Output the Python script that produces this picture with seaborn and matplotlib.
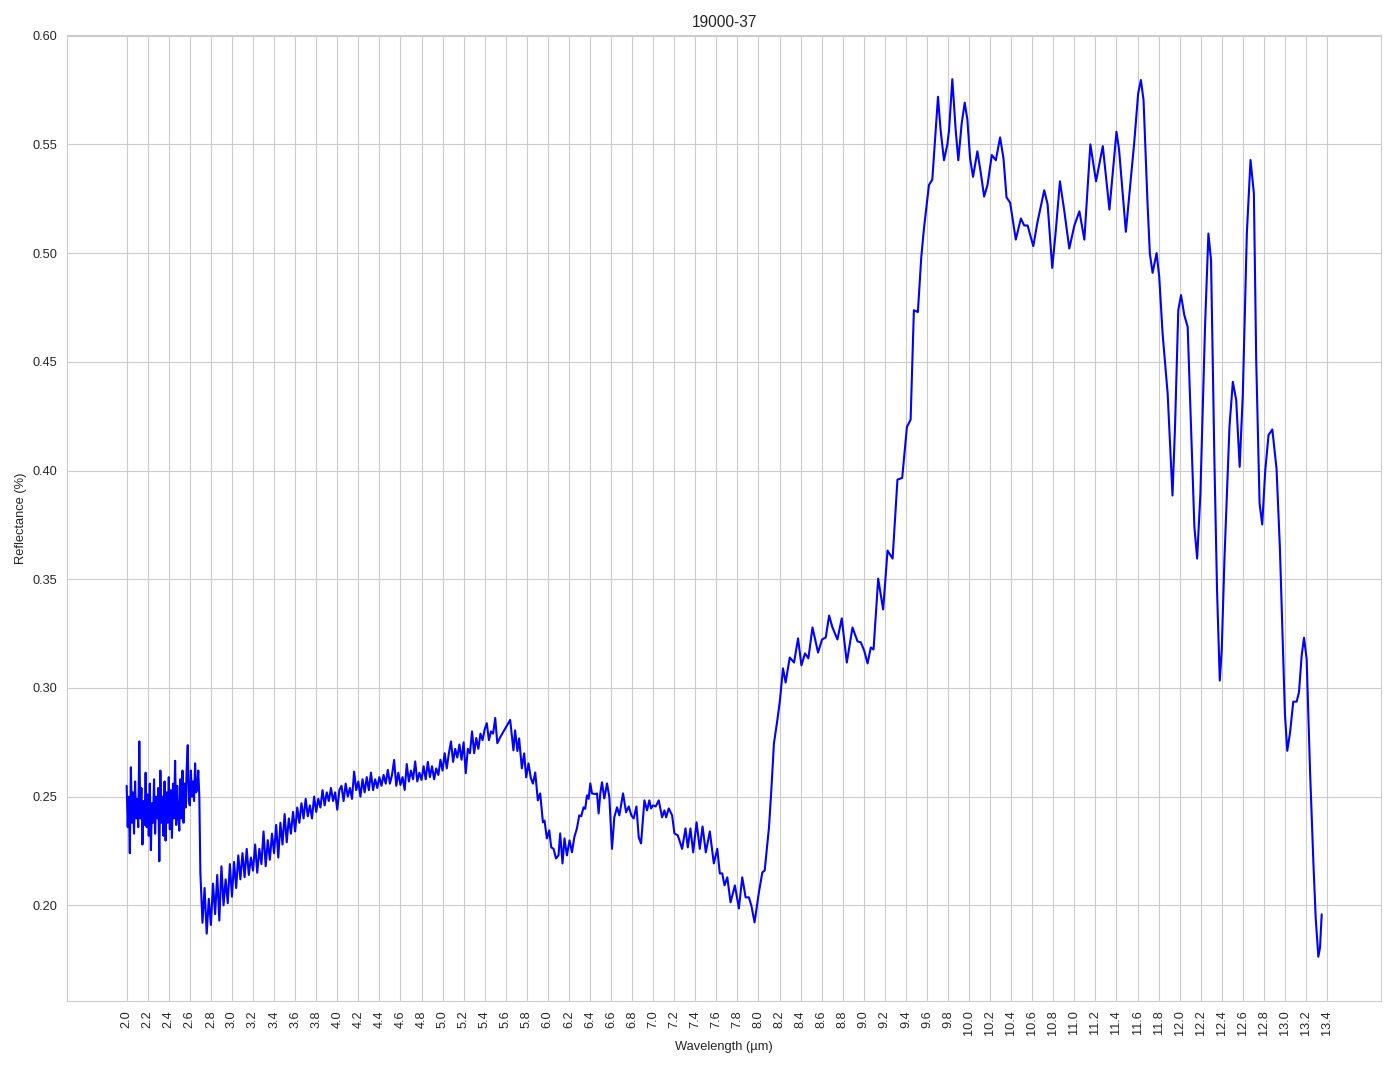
import numpy as np
import matplotlib
matplotlib.use("Agg")
import matplotlib.pyplot as plt
import pandas as pd
import seaborn as sns

# Spectrum 19000-37, values

title = "19000-37"

# noisy part 2.00 - 2.69 um, sampled every 0.01 um
refl_a = [
    0.255, 0.236, 0.250, 0.224, 0.2635, 0.238, 0.252, 0.233, 0.257, 0.240,
    0.249, 0.236, 0.2754, 0.240, 0.254, 0.228, 0.248, 0.237, 0.261, 0.236,
    0.251, 0.232, 0.256, 0.2254, 0.247, 0.238, 0.258, 0.233, 0.250, 0.240,
    0.254, 0.2203, 0.262, 0.238, 0.250, 0.232, 0.257, 0.2298, 0.252, 0.238,
    0.259, 0.235, 0.253, 0.231, 0.256, 0.240, 0.2665, 0.237, 0.255, 0.242,
    0.2344, 0.258, 0.240, 0.262, 0.238, 0.256, 0.245, 0.263, 0.2737, 0.248,
    0.246, 0.262, 0.250, 0.257, 0.248, 0.2653, 0.252, 0.2535, 0.262, 0.250,
]

# noisy part 2.70 - 5.52 um, sampled every 0.02 um
refl_b = [
    0.215, 0.192, 0.208, 0.187, 0.203, 0.191, 0.210, 0.196, 0.214, 0.193,
    0.218, 0.200, 0.212, 0.201, 0.219, 0.204, 0.220, 0.208, 0.223, 0.212,
    0.224, 0.213, 0.226, 0.214, 0.222, 0.216, 0.228, 0.215, 0.226, 0.219,
    0.234, 0.218, 0.230, 0.221, 0.233, 0.224, 0.237, 0.222, 0.238, 0.228,
    0.242, 0.229, 0.240, 0.233, 0.243, 0.234, 0.245, 0.238, 0.247, 0.240,
    0.249, 0.241, 0.246, 0.240, 0.250, 0.243, 0.249, 0.245, 0.253, 0.246,
    0.252, 0.248, 0.254, 0.248, 0.252, 0.244, 0.253, 0.255, 0.248, 0.256,
    0.250, 0.254, 0.249, 0.2615, 0.253, 0.257, 0.250, 0.258, 0.252, 0.259,
    0.253, 0.2611, 0.253, 0.258, 0.254, 0.259, 0.255, 0.260, 0.256, 0.2623,
    0.256, 0.260, 0.2669, 0.255, 0.261, 0.2554, 0.259, 0.2531, 0.265, 0.257,
    0.262, 0.258, 0.2662, 0.257, 0.261, 0.2577, 0.264, 0.258, 0.266, 0.259,
    0.264, 0.258, 0.263, 0.260, 0.267, 0.262, 0.270, 0.263, 0.270, 0.2754,
    0.266, 0.272, 0.268, 0.274, 0.267, 0.275, 0.2608, 0.272, 0.270, 0.280,
    0.270, 0.277, 0.272, 0.279, 0.276, 0.281, 0.2838, 0.276, 0.280, 0.279,
    0.2862, 0.2746,
]

# smoother part from 5.55 um on, irregular points at the features
wl_c = [
    5.546, 5.642, 5.673, 5.689, 5.711, 5.727, 5.753, 5.775, 5.794, 5.816,
    5.839, 5.858, 5.880, 5.905, 5.927, 5.953, 5.968, 5.991, 6.013, 6.032,
    6.054, 6.077, 6.101, 6.117, 6.139, 6.158, 6.181, 6.206, 6.229, 6.251,
    6.276, 6.298, 6.317, 6.339, 6.355, 6.371, 6.387, 6.403, 6.419, 6.450,
    6.467, 6.482, 6.498, 6.514, 6.536, 6.562, 6.584, 6.609, 6.631, 6.657,
    6.679, 6.714, 6.743, 6.768, 6.793, 6.815, 6.841, 6.863, 6.885, 6.917,
    6.942, 6.964, 6.980, 6.999, 7.024, 7.053, 7.085, 7.107, 7.123, 7.148,
    7.180, 7.202, 7.234, 7.275, 7.307, 7.329, 7.354, 7.380, 7.412, 7.443,
    7.469, 7.500, 7.538, 7.576, 7.609, 7.633, 7.656, 7.678, 7.704, 7.735,
    7.776, 7.814, 7.846, 7.878, 7.909, 7.932, 7.963, 8.004, 8.037, 8.059,
    8.100, 8.122, 8.147, 8.179, 8.204, 8.233, 8.258, 8.297, 8.338, 8.376,
    8.408, 8.442, 8.474, 8.513, 8.566, 8.604, 8.639, 8.671, 8.703, 8.750,
    8.791, 8.839, 8.893, 8.941, 8.972, 9.004, 9.036, 9.067, 9.093, 9.137,
    9.184, 9.226, 9.274, 9.320, 9.365, 9.410, 9.445, 9.476, 9.514, 9.546,
    9.571, 9.619, 9.651, 9.676, 9.705, 9.730, 9.762, 9.794, 9.810, 9.841,
    9.873, 9.898, 9.930, 9.959, 9.984, 10.010, 10.038, 10.079, 10.111, 10.143,
    10.175, 10.216, 10.254, 10.295, 10.327, 10.356, 10.390, 10.444, 10.492, 10.524,
    10.556, 10.610, 10.650, 10.714, 10.746, 10.790, 10.825, 10.863, 10.905, 10.952,
    11.000, 11.048, 11.095, 11.152, 11.206, 11.270, 11.333, 11.400, 11.425, 11.489,
    11.568, 11.606, 11.632, 11.657, 11.695, 11.717, 11.743, 11.781, 11.806, 11.838,
    11.886, 11.932, 11.956, 11.987, 12.013, 12.044, 12.076, 12.108, 12.140, 12.166,
    12.197, 12.241, 12.273, 12.298, 12.330, 12.355, 12.381, 12.400, 12.425, 12.473,
    12.505, 12.537, 12.570, 12.600, 12.638, 12.673, 12.705, 12.727, 12.759, 12.784,
    12.813, 12.844, 12.880, 12.920, 12.952, 12.984, 13.000, 13.022, 13.048, 13.079,
    13.111, 13.133, 13.159, 13.181, 13.206, 13.238, 13.270, 13.292, 13.317, 13.333,
    13.349,
]
refl_c = [
    0.2772, 0.2853, 0.2713, 0.2805, 0.2710, 0.2768, 0.2630, 0.2699, 0.2589, 0.2653,
    0.2584, 0.2560, 0.2611, 0.2483, 0.2515, 0.2382, 0.2390, 0.2308, 0.2345, 0.2267,
    0.2260, 0.2216, 0.2230, 0.2331, 0.2193, 0.2308, 0.2230, 0.2299, 0.2244, 0.2313,
    0.2354, 0.2414, 0.2410, 0.2451, 0.2444, 0.2506, 0.2490, 0.2561, 0.2515, 0.2512,
    0.2515, 0.2423, 0.2515, 0.2566, 0.2492, 0.2561, 0.2497, 0.2260, 0.2405, 0.2451,
    0.2414, 0.2515, 0.2428, 0.2455, 0.2414, 0.2400, 0.2455, 0.2313, 0.2285, 0.2483,
    0.2437, 0.2483, 0.2446, 0.2460, 0.2455, 0.2483, 0.2405, 0.2437, 0.2405, 0.2446,
    0.2414, 0.2331, 0.2322, 0.2260, 0.2354, 0.2267, 0.2354, 0.2244, 0.2382, 0.2260,
    0.2363, 0.2244, 0.2340, 0.2193, 0.2260, 0.2147, 0.2147, 0.2092, 0.2129, 0.2014,
    0.2092, 0.1986, 0.2129, 0.2037, 0.2037, 0.2000, 0.1922, 0.2060, 0.2152, 0.2160,
    0.2359, 0.2529, 0.2745, 0.2851, 0.2943, 0.3090, 0.3025, 0.3140, 0.3117, 0.3228,
    0.3104, 0.3159, 0.3136, 0.3278, 0.3163, 0.3223, 0.3232, 0.3333, 0.3278, 0.3223,
    0.3320, 0.3117, 0.3278, 0.3214, 0.3210, 0.3172, 0.3113, 0.3186, 0.3177, 0.3503,
    0.3361, 0.3632, 0.3595, 0.3958, 0.3966, 0.4201, 0.4234, 0.4737, 0.4729, 0.4980,
    0.5110, 0.5313, 0.5338, 0.5516, 0.5719, 0.5565, 0.5427, 0.5500, 0.5565, 0.5800,
    0.5565, 0.5427, 0.5597, 0.5692, 0.5614, 0.5435, 0.5351, 0.5468, 0.5370, 0.5260,
    0.5313, 0.5451, 0.5427, 0.5532, 0.5435, 0.5256, 0.5232, 0.5062, 0.5159, 0.5127,
    0.5127, 0.5032, 0.5143, 0.5289, 0.5224, 0.4932, 0.5110, 0.5330, 0.5192, 0.5021,
    0.5127, 0.5192, 0.5062, 0.5500, 0.5330, 0.5492, 0.5200, 0.5558, 0.5474, 0.5098,
    0.5505, 0.5735, 0.5796, 0.5704, 0.5228, 0.4998, 0.4909, 0.5000, 0.4891, 0.4630,
    0.4354, 0.3885, 0.4201, 0.4738, 0.4807, 0.4715, 0.4661, 0.4201, 0.3740, 0.3595,
    0.3894, 0.4661, 0.5090, 0.4968, 0.4047, 0.3450, 0.3034, 0.3180, 0.3587, 0.4201,
    0.4408, 0.4324, 0.4017, 0.4354, 0.5090, 0.5428, 0.5275, 0.4508, 0.3848, 0.3752,
    0.4001, 0.4163, 0.4189, 0.4009, 0.3643, 0.3133, 0.2878, 0.2711, 0.2793, 0.2937,
    0.2937, 0.2980, 0.3150, 0.3231, 0.3133, 0.2622, 0.2197, 0.1942, 0.1764, 0.1806,
    0.1959,
]

wl_a = np.round(2.00 + 0.01 * np.arange(len(refl_a)), 3)
wl_b = np.round(2.70 + 0.02 * np.arange(len(refl_b)), 3)

df = pd.DataFrame({
    "wavelength": np.concatenate([wl_a, wl_b, wl_c]),
    "reflectance": np.concatenate([refl_a, refl_b, refl_c]),
})

sns.set_style("whitegrid")
plt.rcParams["font.family"] = ["Liberation Sans", "DejaVu Sans"]
plt.rcParams["xtick.labelsize"] = 9.2
plt.rcParams["ytick.labelsize"] = 9.2
plt.rcParams["axes.labelsize"] = 9.3
plt.rcParams["axes.titlesize"] = 11.2

fig, ax = plt.subplots(figsize=(13.94, 10.69), dpi=100)
sns.lineplot(data=df, x="wavelength", y="reflectance", color="blue",
             linewidth=1.5, ax=ax)

ticks = np.round(np.arange(2.0, 13.41, 0.2), 1)
ax.set_xticks(ticks)
ax.set_xticklabels([f"{t:.1f}" for t in ticks], rotation=90)
ax.yaxis.set_major_formatter(matplotlib.ticker.FormatStrFormatter("%.2f"))
ax.set_title(title)
ax.set_xlabel("Wavelength (µm)")
ax.set_ylabel("Reflectance (%)")

plt.subplots_adjust(left=0.048, right=0.991, top=0.967, bottom=0.064)
plt.savefig("out.png", dpi=100)
